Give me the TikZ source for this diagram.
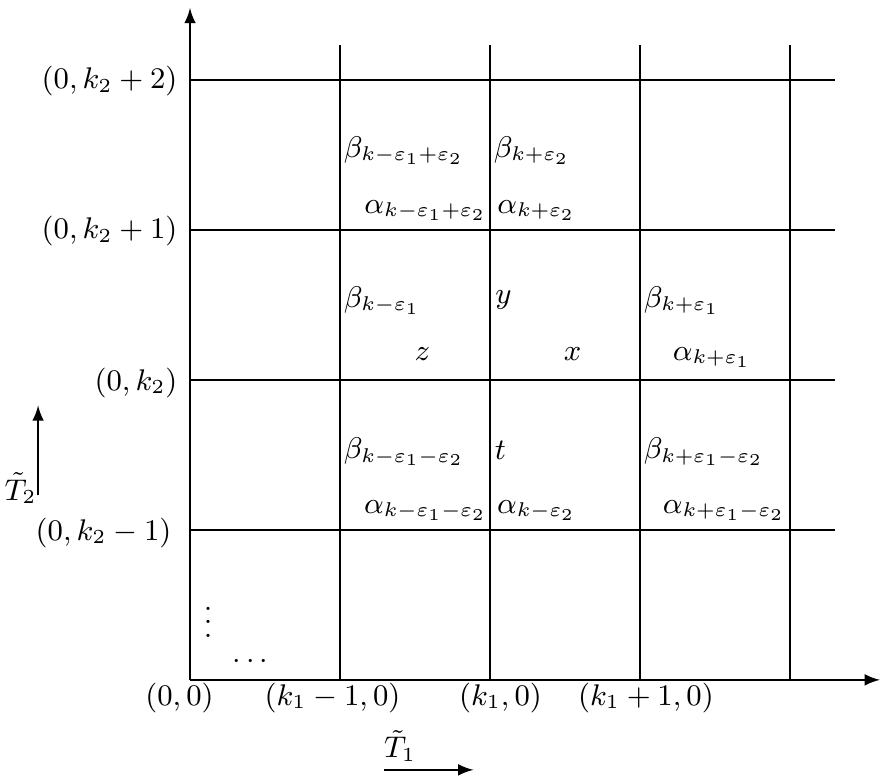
\documentclass[tikz,border=0pt]{standalone}
\usepackage{amsmath,amssymb}
\newcommand{\epais}[0]{semithick}
\newcommand{\colonne}[1]{\draw[\epais] (#1,0) --++ (0,4.23)}
\newcommand{\rangee}[1]{\draw[\epais] (0,#1) --++ (4.3,0)}
\newcommand{\fleche}[3]{\coordinate (#1) at (#2);
	\draw[\epais,-latex] (#1) --++ (#3)}

\begin{document}
\begin{tikzpicture}[x=1.5875cm,y=1.5875cm,every node/.style={font=\small}]
	\useasboundingbox (-1.267,-0.647) rectangle (4.607,4.533);
	\fleche{O}{0,0}{4.6,0};
	\draw[\epais,-latex] (O) --++ (0,4.48);
	\colonne{1};
	\colonne{2};
	\colonne{3};
	\colonne{4};
	\rangee{1};
	\rangee{2};
	\rangee{3};
	\rangee{4};
	\node[anchor=east,inner sep=0pt] (l4) at (-0.08,3.99) {$(0,k_2+2)$};
	\node[anchor=east,inner sep=0pt] (l3) at (-0.08,2.99) {$(0,k_2+1)$};
	\node[anchor=east,inner sep=0pt] (l2) at (-0.08,1.98) {$(0,k_2)$};
	\node[anchor=east,inner sep=0pt] (l1) at (-0.12,0.98) {$(0,k_2-1)$};
	\node (b0) at (-0.07,-0.12) {$(0,0)$};
	\node (b1) at (0.95,-0.12) {$(k_1-1,0)$};
	\node (b2) at (2.07,-0.12) {$(k_1,0)$};
	\node (b3) at (3.04,-0.12) {$(k_1+1,0)$};
	% cases
	\node[anchor=west,inner sep=1pt] (bmp) at (1,3.53) {$\beta_{k-\varepsilon_1+\varepsilon_2}$};
	\node[anchor=west,inner sep=1pt] (bp) at (2,3.53) {$\beta_{k+\varepsilon_2}$};
	\node (amp) at (1.57,3.13) {$\alpha_{k-\varepsilon_1+\varepsilon_2}$};
	\node (ap) at (2.31,3.13) {$\alpha_{k+\varepsilon_2}$};
	\node[anchor=west,inner sep=1pt] (bm) at (1,2.53) {$\beta_{k-\varepsilon_1}$};
	\node (y) at (2.09,2.53) {$y$};
	\node[anchor=west,inner sep=1pt] (bq) at (3,2.53) {$\beta_{k+\varepsilon_1}$};
	\node (z) at (1.55,2.17) {$z$};
	\node (x) at (2.55,2.17) {$x$};
	\node (aq) at (3.48,2.15) {$\alpha_{k+\varepsilon_1}$};
	\node[anchor=west,inner sep=1pt] (bmm) at (1,1.52) {$\beta_{k-\varepsilon_1-\varepsilon_2}$};
	\node (t) at (2.07,1.53) {$t$};
	\node[anchor=west,inner sep=1pt] (bqm) at (3,1.52) {$\beta_{k+\varepsilon_1-\varepsilon_2}$};
	\node (amm) at (1.57,1.13) {$\alpha_{k-\varepsilon_1-\varepsilon_2}$};
	\node (am) at (2.31,1.13) {$\alpha_{k-\varepsilon_2}$};
	\node (aqm) at (3.56,1.13) {$\alpha_{k+\varepsilon_1-\varepsilon_2}$};
	\node[inner sep=0pt] (vd) at (0.12,0.45) {$\vdots$};
	\node[inner sep=0pt] (hd) at (0.42,0.12) {$\cdots$};
	% directions
	\fleche{T2}{-1.013,1.23}{0,0.6};
	\node[inner sep=1pt] (t2) at (-1.13,1.28) {$\tilde{T}_2$};
	\fleche{T1}{1.29,-0.6}{0.6,0};
	\node[inner sep=1pt] (t1) at (1.4,-0.44) {$\tilde{T}_1$};
\end{tikzpicture}
\end{document}
